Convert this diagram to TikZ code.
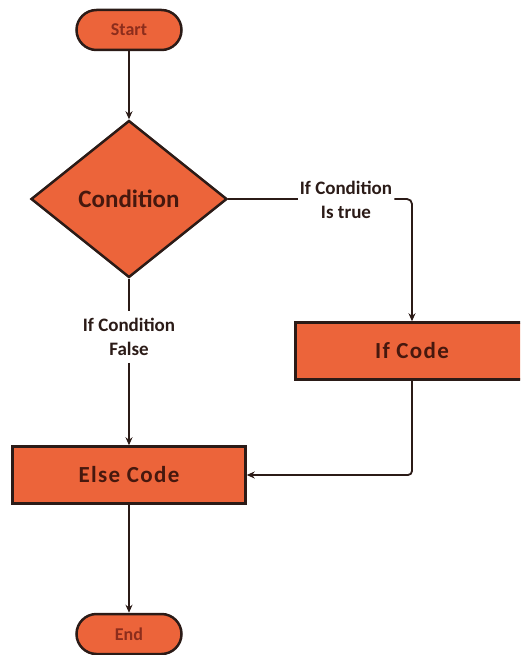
\documentclass[tikz,border=0pt]{standalone}
\usepackage{fontspec}
\setmainfont{Carlito}
\newfontfamily\boxfont[LetterSpace=6]{Carlito}
\usepackage{tikz}
\usetikzlibrary{shapes,calc,arrows.meta}
\definecolor{flowfill}{RGB}{236,100,58}
\definecolor{flowline}{RGB}{43,27,23}
\definecolor{flowtext}{RGB}{70,24,14}
\definecolor{termtext}{RGB}{140,45,28}
\tikzset{
    terminal/.style={rectangle, rounded corners=20pt, draw=flowline, line width=2.5pt, fill=flowfill, minimum width=105pt, minimum height=40pt, text=termtext, font=\bfseries\fontsize{18}{18}\selectfont},
    decision/.style={diamond, draw=flowline, line width=2.5pt, fill=flowfill, inner sep=0pt, minimum width=196pt, minimum height=157pt, text=flowtext, font=\bfseries\fontsize{25}{25}\selectfont},
    process/.style={rectangle, draw=flowline, line width=2.5pt, fill=flowfill, minimum width=233pt, minimum height=57pt, text=flowtext, font=\boxfont\bfseries\fontsize{23}{23}\selectfont},
    branch/.style={align=center, inner xsep=2pt, inner ysep=7pt, text=flowline, font=\bfseries\fontsize{19}{24}\selectfont},
    flow/.style={draw=flowline, line width=1.8pt, -{Stealth[length=8pt,width=7pt]}}
}
\begin{document}
\begin{tikzpicture}[x=1pt, y=-1pt]
    \useasboundingbox (0,0) rectangle (520,655);
    \clip (0,0) rectangle (520,655);
    \node[terminal] (start) at (129,30) {Start};
    \node[decision] (cond) at (129,199) {Condition};
    \node[branch] (falselbl) at (129,337) {If Condition\\False};
    \node[branch] (truelbl) at (346,200) {If Condition\\Is true};
    \node[process] (ifcode) at (412,351) {If Code};
    \node[process] (elsecode) at (129,475) {Else Code};
    \node[terminal] (stop) at (129,634) {End};
    \draw[flow] (start) -- (cond);
    \draw[draw=flowline, line width=1.8pt] (cond.east) -- (cond.east -| truelbl.west);
    \draw[flow, rounded corners=5pt] (truelbl.east |- cond.east) -| (ifcode.north);
    \draw[draw=flowline, line width=1.8pt] (cond.south) -- (falselbl.north);
    \draw[flow] (falselbl.south) -- (elsecode.north);
    \draw[flow, rounded corners=4pt] (ifcode.south) |- (elsecode.east);
    \draw[flow] (elsecode) -- (stop);
\end{tikzpicture}
\end{document}
